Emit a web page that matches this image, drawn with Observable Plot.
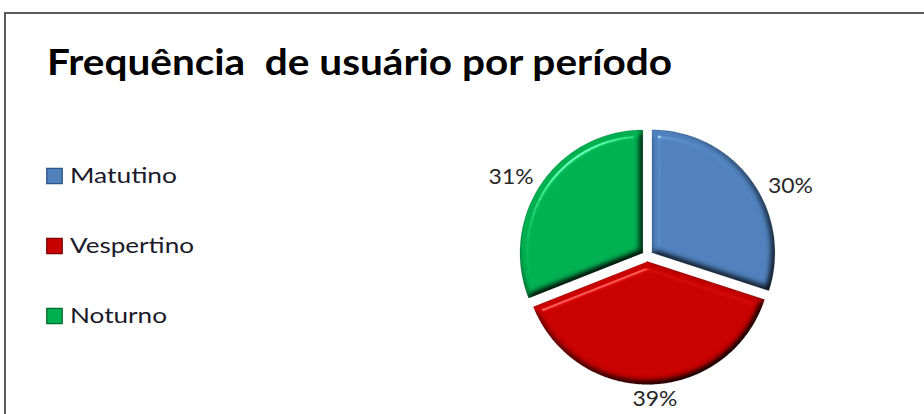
<!DOCTYPE html>
<html><head><meta charset="utf-8">
<script src="https://cdn.jsdelivr.net/npm/d3@7"></script>
<script src="https://cdn.jsdelivr.net/npm/@observablehq/plot@0.6"></script>
<style>
html,body{margin:0;padding:0;background:#fff;overflow:hidden;width:924px;height:414px}
#frame{position:absolute;left:4px;top:12px;width:1000px;height:500px;border:2px solid #5b5b5b;box-sizing:border-box}
#chart{position:absolute;left:0;top:0}
</style></head><body><div id="frame"></div><div id="chart"></div>
<script>
// ---- data ----
const title = "Frequência  de usuário por período";
const categories = ["Matutino", "Vespertino", "Noturno"];
const values = [30, 39, 31];
const colors = ["#4f81bd", "#c80000", "#00b050"];
const edgeColors = ["#2c5484", "#7a0000", "#006b30"];

// ---- layout constants ----
const W = 924, H = 414;
const cx = 647, cy = 255.5, R = 123, explode = 5.5;
const labelAngleDeg = [64, 177, 300];   // placement of % labels around pie
const labelDist = [159, 143.5, 157.5];
const labelWidth = 45;
const legendX = 54, legendY0 = 175.5, legendStep = 70;
const legendWidths = [107, 124, 97];
const titleWidth = 625;

const data = categories.map((c, i) => ({cat: c, value: values[i], color: colors[i], edge: edgeColors[i]}));
const total = d3.sum(values);
const arcs = d3.pie().sort(null).value(d => d.value)(data);

const polys = [];
arcs.forEach(s => {
  const mid = (s.startAngle + s.endAngle) / 2;
  const ox = cx + explode * Math.sin(mid), oy = cy - explode * Math.cos(mid);
  const cat = s.data.cat;
  polys.push({cat, x: ox, y: oy});
  const n = Math.ceil((s.endAngle - s.startAngle) / (Math.PI / 360));
  for (let i = 0; i <= n; i++) {
    const a = s.startAngle + (s.endAngle - s.startAngle) * i / n;
    polys.push({cat, x: ox + R * Math.sin(a), y: oy - R * Math.cos(a)});
  }
  polys.push({cat, x: ox, y: oy});
});

const labels = arcs.map((s, i) => {
  const a = labelAngleDeg[i] * Math.PI / 180;
  return {
    text: Math.round(100 * s.data.value / total) + "%",
    x: cx + labelDist[i] * Math.sin(a),
    y: cy - labelDist[i] * Math.cos(a)
  };
});

const colorOf = Object.fromEntries(data.map(d => [d.cat, d.color]));
const edgeOf = Object.fromEntries(data.map(d => [d.cat, d.edge]));

const svg = Plot.plot({
  width: W, height: H, margin: 0,
  style: {background: "transparent", overflow: "visible"},
  x: {domain: [0, W], range: [0, W], axis: null},
  y: {domain: [0, H], range: [0, H], axis: null},
  marks: [
    Plot.line(polys, {x: "x", y: "y", z: "cat", fill: d => colorOf[d.cat], stroke: d => edgeOf[d.cat], strokeWidth: 1, strokeOpacity: 0.5, curve: "linear-closed"}),
    Plot.text(labels, {x: "x", y: "y", text: "text", fontSize: 21, fontFamily: "Lato", fill: "#262626", textAnchor: "middle", lineAnchor: "middle"}),
    Plot.dot(data, {x: () => legendX, y: (d, i) => legendY0 + i * legendStep, symbol: "square", r: 8.7, fill: "color", stroke: "edge", strokeWidth: 1.3}),
    Plot.text(data, {x: () => legendX + 15.5, y: (d, i) => legendY0 + i * legendStep, text: "cat", textAnchor: "start", lineAnchor: "middle", fontSize: 21, fontFamily: "Lato", fill: "#1a1a2a"}),
    Plot.text([title], {frameAnchor: "top-left", dx: 46.5, dy: 62.5, lineAnchor: "middle", text: d => d, textAnchor: "start", fontSize: 36, fontWeight: "bold", fontFamily: "Lato", fill: "#000"})
  ]
});
document.getElementById("chart").appendChild(svg);

const s = d3.select(svg);
// stretch texts to the widths seen in the reference
const textGroups = s.selectAll("g[aria-label=text]").nodes();
d3.select(textGroups[0]).selectAll("text").attr("textLength", labelWidth).attr("lengthAdjust", "spacingAndGlyphs");
d3.select(textGroups[1]).selectAll("text").each(function(d, i) {
  d3.select(this).attr("textLength", legendWidths[i]).attr("lengthAdjust", "spacingAndGlyphs");
});
d3.select(textGroups[2]).selectAll("text").style("white-space", "pre").attr("textLength", titleWidth).attr("lengthAdjust", "spacingAndGlyphs");

// bevel filter for the pie slices
const defs = s.insert("defs", ":first-child");
defs.html(`
<filter id="bevel" x="-5%" y="-5%" width="110%" height="110%" color-interpolation-filters="sRGB">
  <feGaussianBlur in="SourceAlpha" stdDeviation="3.5" result="blur"/>
  <feDiffuseLighting in="blur" surfaceScale="6" diffuseConstant="1.15" lighting-color="#ffffff" result="diff">
    <feDistantLight azimuth="235" elevation="60"/>
  </feDiffuseLighting>
  <feSpecularLighting in="blur" surfaceScale="6" specularConstant="0.8" specularExponent="110" lighting-color="#ffffff" result="spec">
    <feDistantLight azimuth="235" elevation="60"/>
  </feSpecularLighting>
  <feComposite in="SourceGraphic" in2="diff" operator="arithmetic" k1="1" k2="0" k3="0" k4="0" result="shaded"/>
  <feComposite in="spec" in2="SourceAlpha" operator="in" result="specIn"/>
  <feComposite in="shaded" in2="specIn" operator="arithmetic" k1="0" k2="1" k3="0.6" k4="0" result="lit"/>
  <feComposite in="lit" in2="SourceAlpha" operator="in"/>
</filter>`);
s.selectAll("g[aria-label=line]").attr("filter", "url(#bevel)");
</script></body></html>
